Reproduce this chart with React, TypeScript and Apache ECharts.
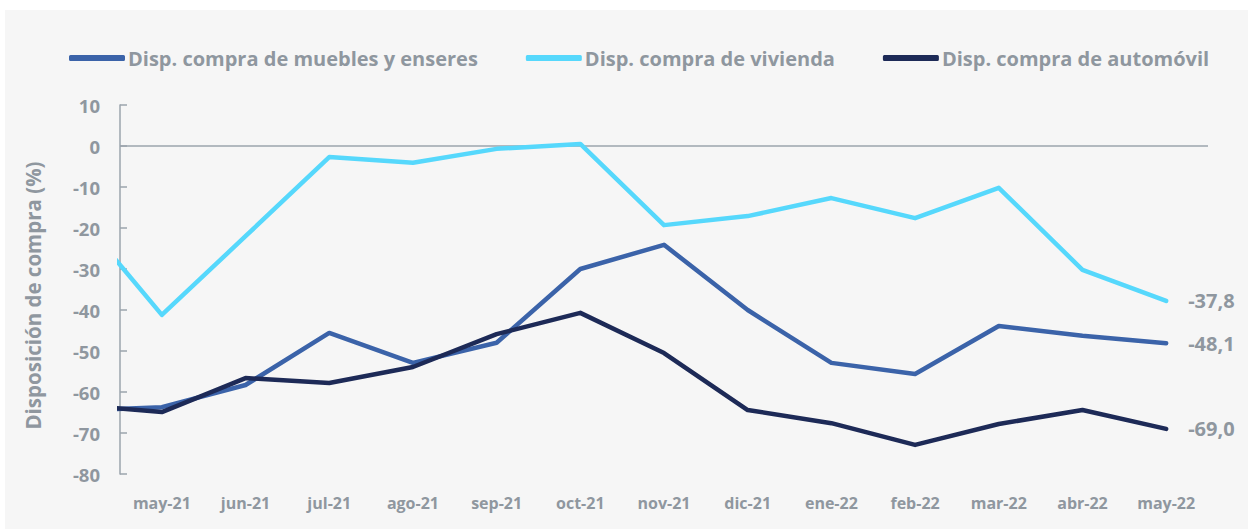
import React, { useEffect, useRef } from "react";
import * as echarts from "echarts";

const categories = ["abr-21", "may-21", "jun-21", "jul-21", "ago-21", "sep-21", "oct-21", "nov-21", "dic-21", "ene-22", "feb-22", "mar-22", "abr-22", "may-22"];
const muebles = [-64.5, -63.7, -58.3, -45.6, -52.9, -48.0, -30.0, -24.1, -40.0, -52.9, -55.6, -43.9, -46.3, -48.1];
const vivienda = [-16.8, -41.2, -22.0, -2.7, -4.1, -0.7, 0.5, -19.3, -17.1, -12.7, -17.6, -10.2, -30.2, -37.8];
const automovil = [-63.1, -64.9, -56.6, -57.8, -53.9, -45.9, -40.7, -50.5, -64.4, -67.6, -72.9, -67.8, -64.4, -69.0];
const seriesNames = ["Disp. compra de muebles y enseres", "Disp. compra de vivienda", "Disp. compra de automóvil"];
const colors = ["#3b63a9", "#56d8fc", "#1d2a57"];
const yTicks = { min: -80, max: 10, interval: 10 };

const FONT = "'Open Sans'";
const GRAY = "#8f979f";

export default function App() {
  const ref = useRef<HTMLDivElement>(null);
  useEffect(() => {
    if (!ref.current) return;
    const chart = echarts.init(ref.current, null, { renderer: "svg" });
    const fmt = (v: number) => v.toFixed(1).replace(".", ",");
    const allData = [muebles, vivienda, automovil];
    const series: any[] = allData.map((arr, i) => ({
      name: seriesNames[i],
      type: "line",
      data: arr.map((v, j) => [j, v]),
      symbol: "none",
      clip: true,
      z: i === 2 ? 4 : 3,
      lineStyle: { color: colors[i], width: 4.5, cap: "round", join: "round" },
      itemStyle: { color: colors[i] },
      endLabel: {
        show: true,
        formatter: (p: any) => fmt(p.value[1]),
        color: GRAY,
        fontFamily: FONT,
        fontWeight: "bold",
        fontSize: 20,
        distance: 22,
      },
    }));
    series[0].markLine = {
      silent: true,
      symbol: "none",
      label: { show: false },
      lineStyle: { color: "#9ba4ad", width: 1.5, type: "solid" },
      data: [{ yAxis: 0 }],
      z: 1,
    };
    chart.setOption({
      animation: false,
      backgroundColor: "#ffffff",
      graphic: [
        {
          type: "rect",
          z: -10,
          silent: true,
          shape: { x: 5, y: 10, width: 1243, height: 519 },
          style: { fill: "#f6f6f6" },
        },
      ],
      legend: {
        left: 64,
        top: 43,
        icon: "roundRect",
        itemWidth: 56,
        itemHeight: 6,
        itemGap: 48,
        textStyle: { color: GRAY, fontFamily: FONT, fontWeight: "bold", fontSize: 20, padding: [0, 0, 0, -2] },
        data: seriesNames,
      },
      grid: { left: 120, right: 40, top: 105, bottom: 55, containLabel: false },
      xAxis: {
        type: "value",
        min: 0.5,
        max: 13.5,
        splitLine: { show: false },
        axisLine: { show: false, onZero: false },
        axisTick: { show: false },
        axisLabel: {
          customValues: categories.map((_, i) => i).slice(1),
          formatter: (v: number) => categories[Math.round(v)] ?? "",
          color: GRAY,
          fontFamily: FONT,
          fontWeight: "bold",
          fontSize: 16,
          margin: 21,
        },
      },
      yAxis: {
        type: "value",
        min: yTicks.min,
        max: yTicks.max,
        interval: yTicks.interval,
        name: "Disposición de compra (%)",
        nameLocation: "middle",
        nameGap: 77,
        nameTextStyle: { color: GRAY, fontFamily: FONT, fontWeight: "bold", fontSize: 20.5, padding: [0, 0, 0, -12] },
        splitLine: { show: false },
        axisLine: { show: true, lineStyle: { color: "#9ba4ad", width: 1.5 } },
        axisTick: { show: true, inside: true, length: 7, lineStyle: { color: "#9ba4ad", width: 1.5 } },
        axisLabel: {
          color: GRAY,
          fontFamily: FONT,
          fontWeight: "bold",
          fontSize: 18.5,
          margin: 20,
        },
      },
      series,
    });
    return () => chart.dispose();
  }, []);
  return (
    <div
      ref={ref}
      style={{ position: "absolute", left: 0, top: 0, width: 1248, height: 529 }}
    />
  );
}
